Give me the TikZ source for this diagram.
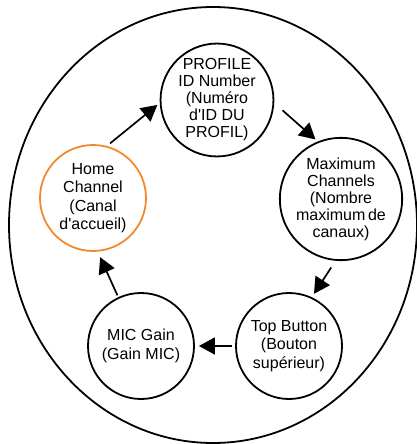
\documentclass[tikz,border=0pt]{standalone}
\usepackage{fontspec}
\setmainfont{Liberation Sans}[Ligatures=TeXOff]
\usetikzlibrary{arrows.meta}
\definecolor{homeorange}{RGB}{240,138,44}
\tikzset{
  stage/.style={circle, draw=black, line width=1.8pt, minimum size=106pt, inner sep=0pt,
    align=center, font=\fontsize{16}{17}\selectfont},
  stageloose/.style={stage, font=\fontsize{16}{18.5}\selectfont},
  arr/.style={line width=1.7pt, -{Triangle[length=16pt,width=17pt]}},
}
\begin{document}
\begin{tikzpicture}[x=1pt,y=-1pt]
\useasboundingbox (0,0) rectangle (417,444);
\draw[line width=1.8pt] (213,225) ellipse [x radius=204, y radius=218];
\node[stage] (profile) at (217,100) {PROFILE\\ID Number\\(Numéro\\d'ID DU\\PROFIL)};
\node[stage] (max) at (341,199) {Maximum\\Channels\\(Nombre\\maximum\,de\\canaux)};
\node[stageloose] (top) at (289,346) {Top Button\\(Bouton\\supérieur)};
\node[stageloose] (mic) at (141,346) {MIC Gain\\(Gain MIC)};
\node[stageloose, draw=homeorange] (home) at (93,198) {Home\\Channel\\(Canal\\d'accueil)};
\draw[arr, shorten <=4pt, shorten >=3pt] (home.75) -- (profile.183);
\draw[arr, shorten <=11pt, shorten >=3pt] (profile.-3) -- (max.112);
\draw[arr, shorten <=8pt, shorten >=4pt] (max.265) -- (top.65);
\draw[arr, shorten <=3pt, shorten >=4pt] (top.180) -- (mic.0);
\draw[arr, shorten <=2pt, shorten >=6pt] (mic.115) -- (home.275);
\end{tikzpicture}
\end{document}
